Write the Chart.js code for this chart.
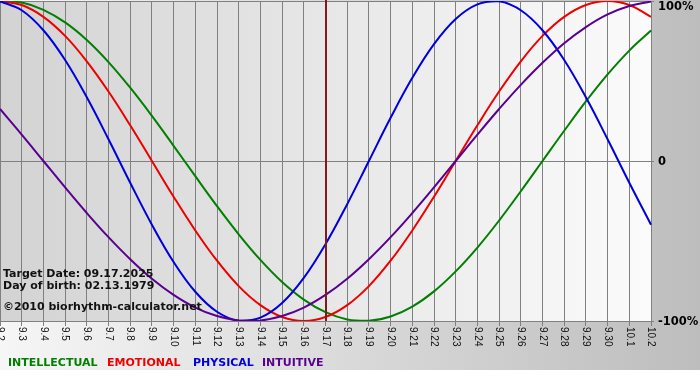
<!DOCTYPE html>
<html><head><meta charset="utf-8">
<script src="https://cdn.jsdelivr.net/npm/chart.js@4.4.0/dist/chart.umd.min.js"></script>
<style>html,body{margin:0;padding:0;background:#fff;}canvas{display:block;}</style>
</head><body>
<canvas id="c" width="700" height="380"></canvas>
<script>
const dayLabels = ['9.2','9.3','9.4','9.5','9.6','9.7','9.8','9.9','9.10','9.11','9.12','9.13','9.14','9.15','9.16','9.17','9.18','9.19','9.20','9.21','9.22','9.23','9.24','9.25','9.26','9.27','9.28','9.29','9.30','10.1','10.2'];
const intellectual = [0.999,0.990,0.945,0.866,0.756,0.618,0.458,0.282,0.095,-0.095,-0.282,-0.458,-0.618,-0.756,-0.866,-0.945,-0.990,-0.999,-0.972,-0.910,-0.815,-0.690,-0.541,-0.372,-0.189,0.000,0.189,0.372,0.541,0.690,0.815];
const emotional = [1.000,0.975,0.901,0.782,0.623,0.434,0.223,0.000,-0.223,-0.434,-0.623,-0.782,-0.901,-0.975,-1.000,-0.975,-0.901,-0.782,-0.623,-0.434,-0.223,0.000,0.223,0.434,0.623,0.782,0.901,0.975,1.000,0.975,0.901];
const physical = [0.998,0.942,0.817,0.631,0.398,0.136,-0.136,-0.398,-0.631,-0.817,-0.942,-0.998,-0.979,-0.888,-0.731,-0.520,-0.270,0.000,0.270,0.520,0.731,0.888,0.979,0.998,0.942,0.817,0.631,0.398,0.136,-0.136,-0.398];
const intuitive = [0.325,0.165,0.000,-0.165,-0.325,-0.476,-0.614,-0.736,-0.837,-0.916,-0.969,-0.997,-0.997,-0.969,-0.916,-0.837,-0.736,-0.614,-0.476,-0.325,-0.165,0.000,0.165,0.325,0.476,0.614,0.736,0.837,0.916,0.969,0.997];
const yTickValues = [1, 0, -1];
const yTickLabels = ['100%', '0', '-100%'];
const targetDay = '9.17';
const infoLines = ['Target Date: 09.17.2025', 'Day of birth: 02.13.1979', '\u00A92010 biorhythm-calculator.net'];
const seriesNames = ['INTELLECTUAL', 'EMOTIONAL', 'PHYSICAL', 'INTUITIVE'];
const seriesColors = ['#007f00', '#ee0000', '#0000dd', '#580090'];
const seriesValues = [intellectual, emotional, physical, intuitive];

const decor = {
  id: 'decor',
  beforeDraw(chart) {
    const ctx = chart.ctx, a = chart.chartArea;
    ctx.save();
    ctx.fillStyle = '#ffffff';
    ctx.fillRect(0, 0, 700, 380);
    let g = ctx.createLinearGradient(0, 0, 700, 0);
    g.addColorStop(0, '#f6f6f6');
    g.addColorStop(1, '#bdbdbd');
    ctx.fillStyle = g;
    ctx.fillRect(0, 0, 700, 370);
    g = ctx.createLinearGradient(a.left, 0, a.right, 0);
    g.addColorStop(0, '#d3d3d3');
    g.addColorStop(1, '#fbfbfb');
    ctx.fillStyle = g;
    ctx.fillRect(a.left, a.top, a.right - a.left, a.bottom - a.top);
    ctx.restore();
  },
  afterDatasetsDraw(chart) {
    const ctx = chart.ctx, a = chart.chartArea;
    const xs = chart.scales.x, ys = chart.scales.y;
    ctx.save();
    const tx = Math.round(xs.getPixelForValue(dayLabels.indexOf(targetDay)));
    ctx.strokeStyle = '#7e1c1c';
    ctx.lineWidth = 2;
    ctx.beginPath();
    ctx.moveTo(tx, a.top - 1);
    ctx.lineTo(tx, a.bottom);
    ctx.stroke();
    ctx.fillStyle = '#000';
    ctx.font = 'bold 11.5px "DejaVu Sans"';
    ctx.textAlign = 'left';
    ctx.textBaseline = 'middle';
    yTickValues.forEach((v, i) => {
      const y = Math.max(ys.getPixelForValue(v) + 1, 7);
      ctx.fillText(yTickLabels[i], a.right + 7, y);
    });
    ctx.font = '10px "Liberation Sans"';
    ctx.fillStyle = '#111';
    dayLabels.forEach((lab, i) => {
      const x = xs.getPixelForValue(i);
      ctx.save();
      ctx.translate(x, a.bottom + 6);
      ctx.rotate(Math.PI / 2);
      ctx.textAlign = 'left';
      ctx.textBaseline = 'middle';
      ctx.fillText(lab, 0, 0);
      ctx.restore();
    });
    ctx.font = 'bold 11px "DejaVu Sans"';
    ctx.fillStyle = '#111';
    ctx.textBaseline = 'alphabetic';
    const infoY = [277, 289, 310];
    infoLines.forEach((t, i) => ctx.fillText(t, 3, infoY[i]));
    const legX = [8, 107, 193, 262];
    seriesNames.forEach((n, i) => {
      ctx.fillStyle = seriesColors[i];
      ctx.fillText(n, legX[i], 366);
    });
    ctx.restore();
  }
};

new Chart(document.getElementById('c'), {
  type: 'line',
  data: {
    labels: dayLabels,
    datasets: seriesNames.map((n, i) => ({
      label: n,
      data: seriesValues[i],
      borderColor: seriesColors[i],
      backgroundColor: seriesColors[i],
      borderWidth: 2,
      pointRadius: 0,
      tension: 0.4,
      fill: false,
      order: 3 - i
    }))
  },
  options: {
    responsive: false,
    devicePixelRatio: 1,
    animation: false,
    layout: { padding: { left: 0, top: 1, right: 46, bottom: 54 } },
    plugins: { legend: { display: false }, tooltip: { enabled: false } },
    scales: {
      x: {
        offset: false,
        grid: { color: '#808080', lineWidth: 1, tickLength: 5, drawTicks: true },
        border: { color: '#808080' },
        ticks: { display: false }
      },
      y: {
        position: 'right',
        min: -1, max: 1,
        ticks: { display: false, stepSize: 1 },
        grid: { color: '#808080', lineWidth: 1, tickLength: 3 },
        border: { color: '#808080' }
      }
    }
  },
  plugins: [decor]
});
</script>
</body></html>
